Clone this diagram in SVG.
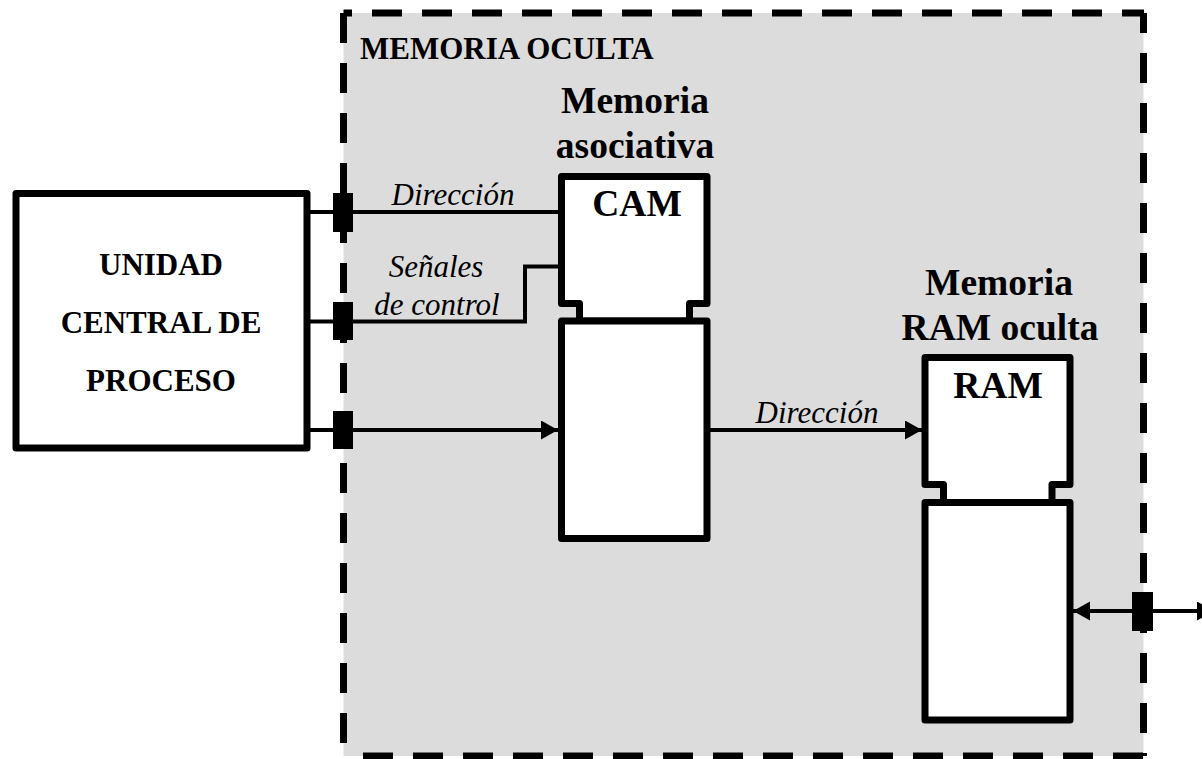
<svg xmlns="http://www.w3.org/2000/svg" width="1202" height="759" viewBox="0 0 1202 759">
<style>
.box{fill:#fff;stroke:#000;stroke-width:7;stroke-linejoin:round}
.dash{stroke:#000;stroke-width:7;stroke-dasharray:30 20;fill:none}
.wire{stroke:#000;stroke-width:4;fill:none}
.blk{fill:#000}
.tb{font-family:"Liberation Serif","Times New Roman",serif;font-weight:bold;fill:#000}
.ti{font-family:"Liberation Serif","Times New Roman",serif;font-style:italic;fill:#000;font-size:31px}
</style>
<defs>
<marker id="ah" markerUnits="userSpaceOnUse" markerWidth="18" markerHeight="20" refX="17" refY="9.5" orient="auto-start-reverse">
<path d="M0,0 L17,9.5 L0,19 Z" fill="#000"/>
</marker>
</defs>
<g id="memoria-oculta">
<rect x="343.5" y="13" width="800" height="743" fill="#dcdcdc"/>
<line class="dash" x1="343.5" y1="13" x2="1144" y2="13" stroke-dashoffset="21.5"/>
<line class="dash" x1="343.5" y1="13" x2="343.5" y2="756" stroke-dashoffset="0"/>
<line class="dash" x1="1143.5" y1="13" x2="1143.5" y2="756" stroke-dashoffset="10"/>
<line class="dash" x1="343.5" y1="756" x2="1144" y2="756" stroke-dashoffset="30.5"/>
<text class="tb" x="360" y="59" font-size="31">MEMORIA OCULTA</text>
</g>
<g id="connectors">
<line class="wire" x1="307" y1="212" x2="561" y2="212"/>
<path class="wire" d="M307,321.5 H525 V266.5 H561"/>
<line class="wire" x1="307" y1="430" x2="558" y2="430" marker-end="url(#ah)"/>
<line class="wire" x1="707" y1="430" x2="922" y2="430" marker-end="url(#ah)"/>
<line class="wire" x1="1073" y1="611" x2="1214" y2="611" marker-start="url(#ah)" marker-end="url(#ah)"/>
<rect class="blk" x="333" y="193" width="20" height="39"/>
<rect class="blk" x="333" y="302" width="20" height="38"/>
<rect class="blk" x="333" y="411" width="20" height="38"/>
<rect class="blk" x="1132" y="592" width="21" height="39"/>
<text class="ti" x="453" y="205" text-anchor="middle">Dirección</text>
<text class="ti" x="436" y="277" text-anchor="middle">Señales</text>
<text class="ti" x="437" y="315" text-anchor="middle">de control</text>
<text class="ti" x="817" y="423" text-anchor="middle">Dirección</text>
</g>
<g id="cpu">
<rect class="box" x="16" y="193.5" width="291" height="254.5" stroke-linejoin="miter"/>
<text class="tb" font-size="31" x="161" y="275" text-anchor="middle">UNIDAD</text>
<text class="tb" font-size="31" x="161" y="333" text-anchor="middle">CENTRAL DE</text>
<text class="tb" font-size="31" x="161" y="391" text-anchor="middle">PROCESO</text>
</g>
<g id="cam">
<text class="tb" font-size="37.5" x="635" y="113" text-anchor="middle">Memoria</text>
<text class="tb" font-size="37.5" x="635" y="158" text-anchor="middle">asociativa</text>
<path class="box" d="M579.5,321 V303.5 H561.5 V176.5 H707 V303.5 H689.5 V321 Z"/>
<rect class="box" x="561.5" y="321" width="145.5" height="217.5" stroke-linejoin="miter"/>
<text class="tb" font-size="37.5" x="637" y="216" text-anchor="middle">CAM</text>
</g>
<g id="ram">
<text class="tb" font-size="37.5" x="999" y="295" text-anchor="middle">Memoria</text>
<text class="tb" font-size="37.5" x="1000" y="340" text-anchor="middle">RAM oculta</text>
<path class="box" d="M943.5,502.5 V484.5 H925 V357.5 H1070 V484.5 H1052 V502.5 Z"/>
<rect class="box" x="925" y="502.5" width="145" height="217.5" stroke-linejoin="miter"/>
<text class="tb" font-size="37.5" x="998" y="398" text-anchor="middle">RAM</text>
</g>
</svg>
